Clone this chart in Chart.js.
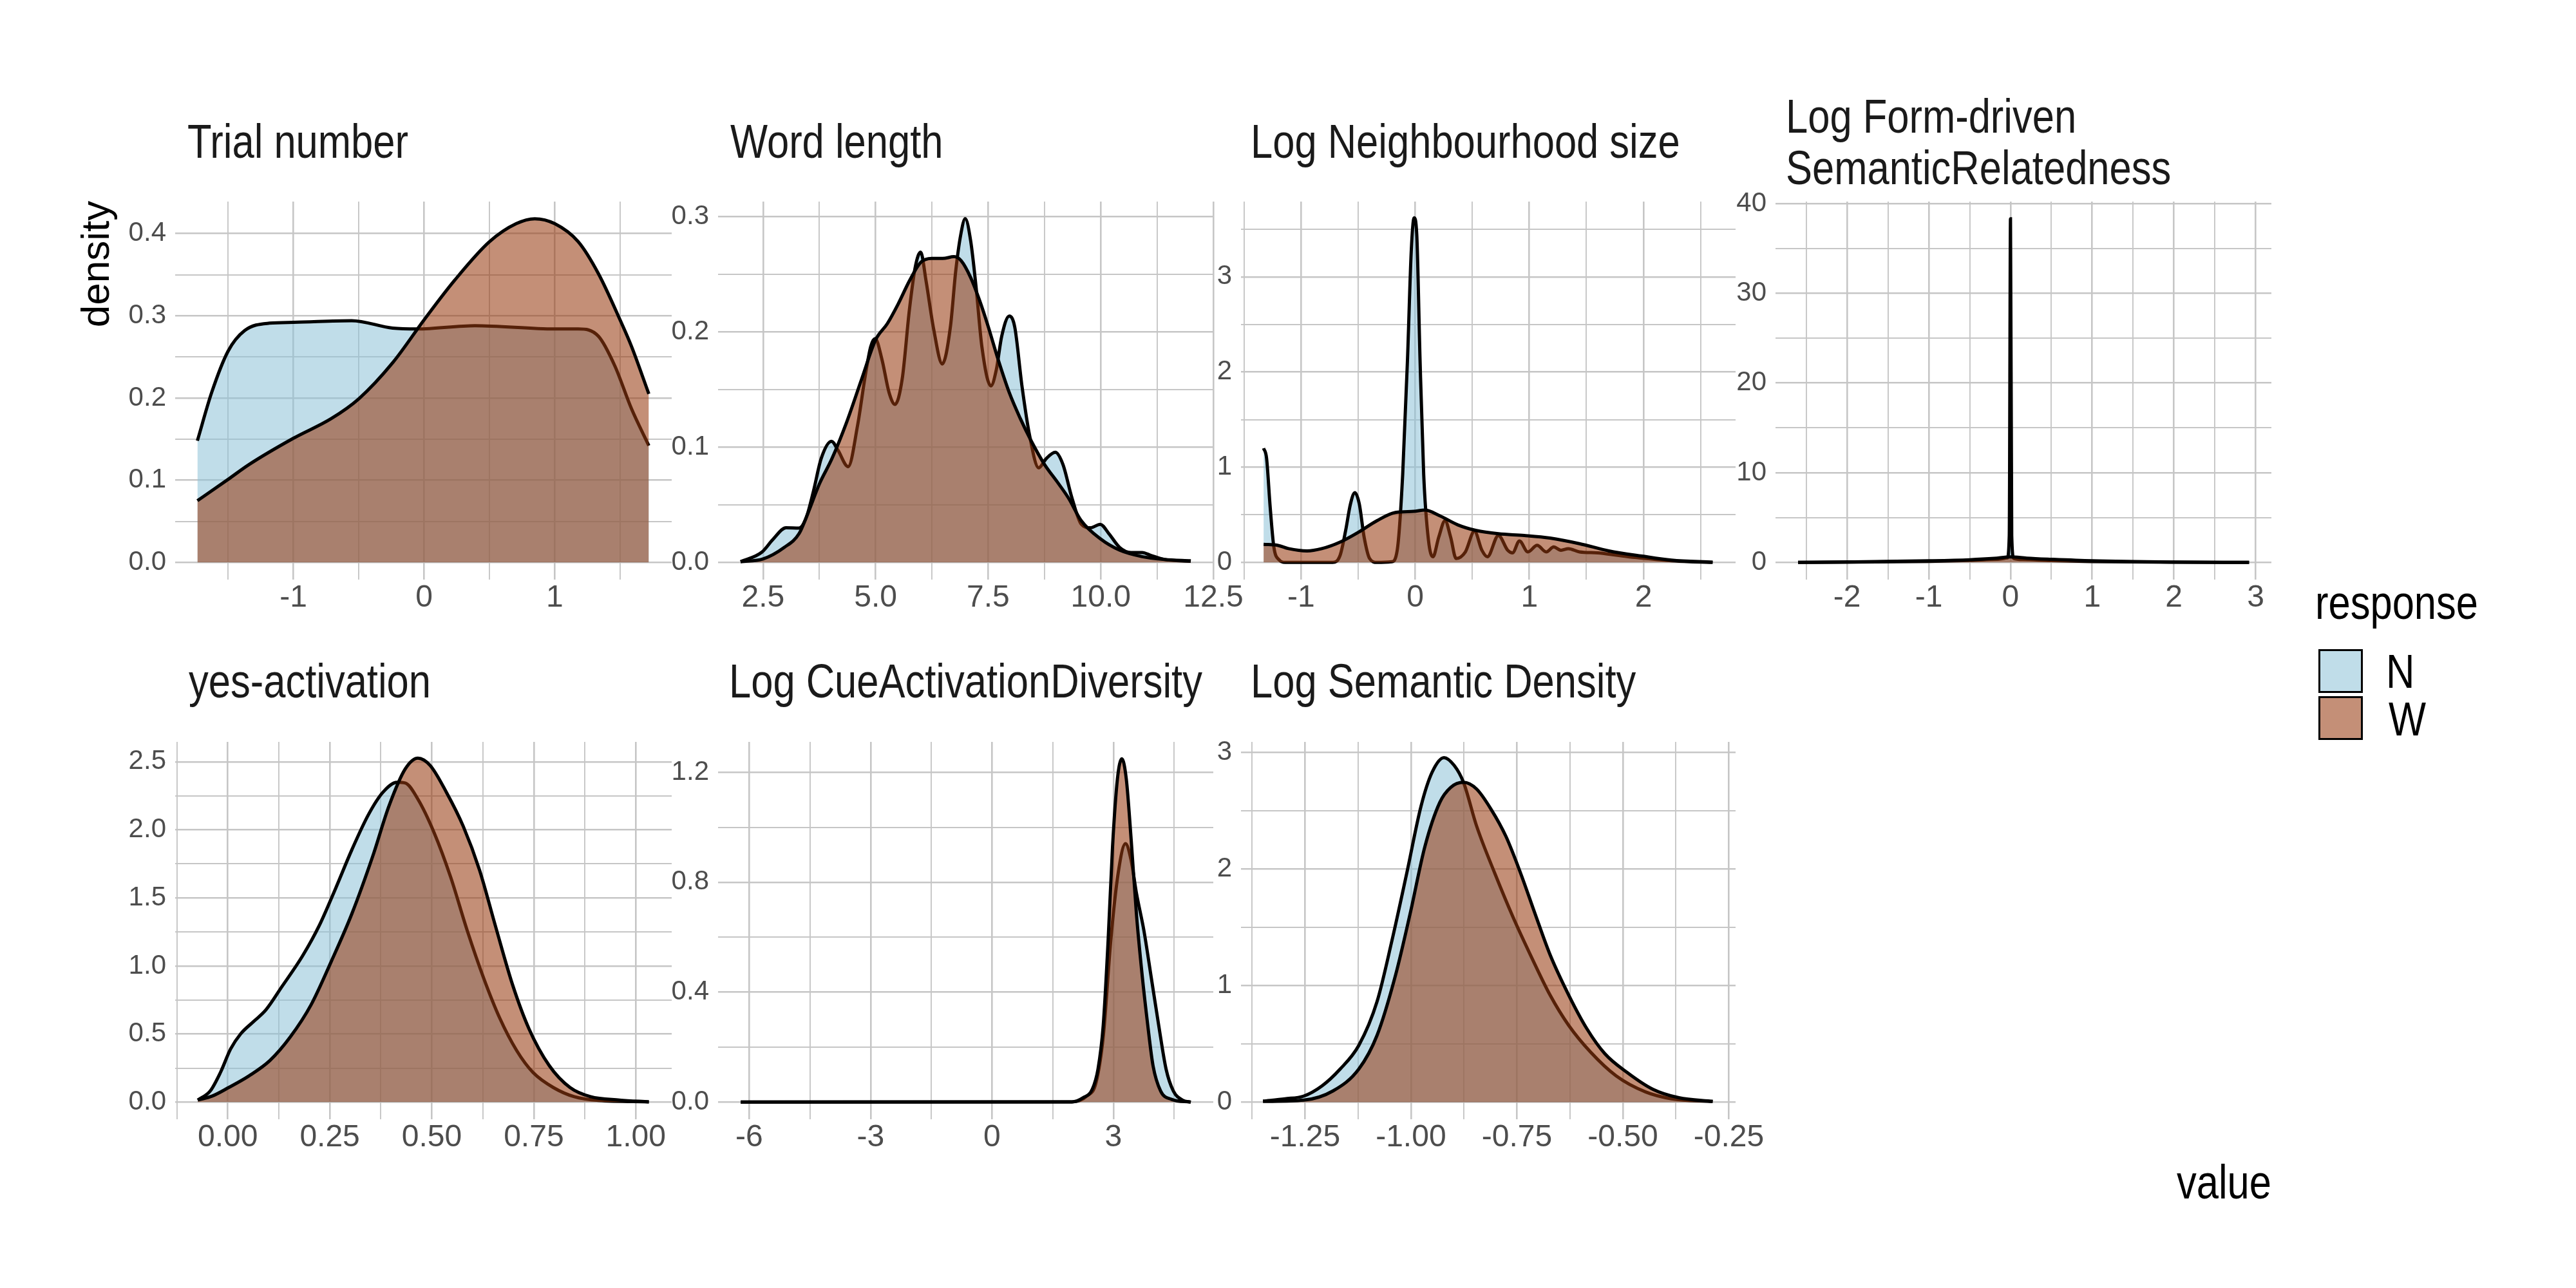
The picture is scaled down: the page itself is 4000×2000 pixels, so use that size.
<!DOCTYPE html>
<html>
<head>
<meta charset="utf-8">
<script src="https://cdn.jsdelivr.net/npm/chart.js@4.4.1/dist/chart.umd.min.js"></script>
<style>
    body { margin: 0; width: 4000px; height: 2000px; background: #fff; position: relative; overflow: hidden;
           font-family: "Liberation Sans", Arial, sans-serif; }
    canvas { position: absolute; }
    .txt { position: absolute; font-size: 75px; line-height: 75px; white-space: nowrap;
           transform-origin: 0 0; transform: scaleX(0.82); color: #1a1a1a; }
    .two { line-height: 80px; }
    .ylab { position: absolute; font-size: 62px; line-height: 62px; white-space: nowrap; color: #000;
            transform: translate(-50%, -50%) rotate(-90deg); }
    .key { position: absolute; width: 69px; height: 68px; box-sizing: border-box; border: 3px solid #000; }
</style>
</head>
<body>

<!-- facet strip titles -->
<div class="txt" style="left:291px; top:182px;">Trial number</div>
<div class="txt" style="left:1134px; top:182px;">Word length</div>
<div class="txt" style="left:1942px; top:182px;">Log Neighbourhood size</div>
<div class="txt two" style="left:2773px; top:140px;">Log Form-driven<br>SemanticRelatedness</div>
<div class="txt" style="left:293px; top:1020px;">yes-activation</div>
<div class="txt" style="left:1132px; top:1020px;">Log CueActivationDiversity</div>
<div class="txt" style="left:1942px; top:1020px;">Log Semantic Density</div>

<!-- axis titles -->
<div class="ylab" style="left:148px; top:410px;">density</div>
<div class="txt" style="left:3380px; top:1798px; color:#000;">value</div>

<!-- legend -->
<div class="txt" style="left:3595px; top:898px; color:#000;">response</div>
<div class="key" id="keyN" style="left:3600px; top:1008px;"></div>
<div class="key" id="keyW" style="left:3600px; top:1081px;"></div>
<div class="txt" style="left:3705px; top:1005px; color:#000;">N</div>
<div class="txt" style="left:3709px; top:1079px; color:#000;">W</div>

<script>
// ── Data: density curves, per facet ──

// Trial number
const trialNX = [-1.735, -1.625, -1.5, -1.373, -1.184, -1.0, -0.554, -0.24, -0.05, 0.39, 1.0, 1.18, 1.335, 1.46, 1.587, 1.72];
const trialNY = [0.148, 0.207, 0.257, 0.282, 0.291, 0.292, 0.294, 0.285, 0.284, 0.288, 0.284, 0.284, 0.275, 0.239, 0.187, 0.142];
const trialWX = [-1.735, -1.5, -1.34, -1.0, -0.71, -0.5, -0.24, 0.0, 0.233, 0.5, 0.705, 0.847, 1.0, 1.18, 1.335, 1.5, 1.587, 1.72];
const trialWY = [0.075, 0.101, 0.119, 0.151, 0.175, 0.199, 0.243, 0.295, 0.343, 0.39, 0.412, 0.418, 0.412, 0.39, 0.351, 0.295, 0.263, 0.205];

// Word length
const wordNX = [2.0, 2.475, 2.72, 3.01, 3.295, 3.46, 3.62, 3.79, 4.02, 4.16, 4.39, 4.6, 4.77, 4.89, 4.99, 5.14, 5.3, 5.43, 5.59,
                5.75, 5.88, 6.0, 6.12, 6.29, 6.48, 6.66, 6.78, 6.89, 6.99, 7.11, 7.23, 7.36, 7.56, 7.68, 7.8, 7.97, 8.09, 8.25,
                8.42, 8.62, 8.79, 8.99, 9.16, 9.36, 9.57, 9.77, 9.99, 10.18, 10.42, 10.67, 10.92, 11.12, 11.41, 12.0];
const wordNY = [0.0006, 0.009, 0.02, 0.03, 0.0297, 0.039, 0.062, 0.09, 0.105, 0.0975, 0.083, 0.119, 0.162, 0.187, 0.194, 0.176,
                0.147, 0.137, 0.159, 0.219, 0.256, 0.269, 0.244, 0.202, 0.172, 0.204, 0.253, 0.284, 0.298, 0.279, 0.239, 0.187,
                0.153, 0.167, 0.196, 0.2136, 0.204, 0.153, 0.11, 0.082, 0.09, 0.0955, 0.085, 0.056, 0.033, 0.03, 0.033, 0.025,
                0.013, 0.0086, 0.0086, 0.006, 0.0026, 0.001];
const wordWX = [2.0, 2.5, 2.97, 3.3, 3.5, 3.75, 4.03, 4.36, 4.69, 5.0, 5.26, 5.5, 5.75, 6.0, 6.25, 6.49, 6.74, 6.9, 7.11, 7.31,
                7.5, 7.72, 7.97, 8.21, 8.46, 8.75, 9.03, 9.28, 9.57, 9.99, 10.42, 10.92, 11.41, 12.0];
const wordWY = [0.0006, 0.003, 0.013, 0.025, 0.043, 0.068, 0.09, 0.122, 0.159, 0.193, 0.207, 0.224, 0.244, 0.26, 0.2635, 0.2635,
                0.265, 0.2615, 0.247, 0.227, 0.2045, 0.176, 0.147, 0.125, 0.105, 0.085, 0.07, 0.056, 0.036, 0.0205, 0.0106,
                0.005, 0.0026, 0.0014];

// Log Neighbourhood size
const neighNX = [-1.329, -1.303, -1.271, -1.239, -1.19, -1.142, -0.723, -0.658, -0.61, -0.568, -0.529, -0.49, -0.448, -0.4,
                 -0.335, -0.206, -0.158, -0.11, -0.068, -0.035, -0.01, 0.013, 0.042, 0.074, 0.116, 0.155, 0.206, 0.261, 0.31,
                 0.358, 0.439, 0.519, 0.584, 0.632, 0.729, 0.81, 0.852, 0.913, 0.987, 1.068, 1.148, 1.213, 1.277, 1.342,
                 1.439, 1.6, 1.761, 1.923, 2.084, 2.245, 2.406, 2.606];
const neighNY = [1.2, 1.096, 0.577, 0.162, 0.024, 0, 0, 0.076, 0.335, 0.612, 0.733, 0.612, 0.266, 0.041, 0, 0.007, 0.128,
                 0.923, 2.13, 3.27, 3.62, 3.45, 2.13, 0.923, 0.232, 0.059, 0.266, 0.439, 0.266, 0.041, 0.11, 0.328, 0.128,
                 0.059, 0.283, 0.128, 0.1, 0.225, 0.11, 0.18, 0.11, 0.162, 0.128, 0.145, 0.11, 0.1, 0.076, 0.052, 0.035,
                 0.017, 0.007, 0];
const neighWX = [-1.329, -1.206, -1.11, -0.948, -0.819, -0.658, -0.497, -0.335, -0.174, -0.013, 0.084, 0.213, 0.374, 0.535,
                 0.729, 0.955, 1.181, 1.439, 1.697, 1.987, 2.245, 2.606];
const neighWY = [0.19, 0.18, 0.145, 0.121, 0.145, 0.214, 0.318, 0.439, 0.525, 0.536, 0.55, 0.491, 0.394, 0.335, 0.301,
                 0.283, 0.256, 0.197, 0.121, 0.066, 0.024, 0.003];

// Log Form-driven SemanticRelatedness
const formNX = [-2.6, -2.0, -1.0, -0.5, -0.15, -0.04, -0.015, 0, 0.015, 0.04, 0.15, 0.5, 1.0, 2.0, 2.92];
const formNY = [0.0, 0.03, 0.12, 0.22, 0.35, 0.5, 3.0, 38.3, 3.0, 0.45, 0.33, 0.2, 0.1, 0.02, 0.0];
const formWX = [-2.6, -2.0, -1.0, -0.5, -0.2, 0, 0.2, 0.5, 1.0, 2.0, 2.92];
const formWY = [0.0, 0.05, 0.18, 0.3, 0.45, 0.62, 0.48, 0.35, 0.18, 0.04, 0.0];

// yes-activation
const yesNX = [-0.0736, -0.043, -0.018, 0.007, 0.032, 0.0625, 0.093, 0.133, 0.183, 0.224, 0.264, 0.304, 0.345, 0.38, 0.415,
               0.435, 0.466, 0.506, 0.546, 0.587, 0.627, 0.667, 0.708, 0.748, 0.798, 0.849, 0.909, 1.032];
const yesNY = [0.015, 0.082, 0.218, 0.391, 0.503, 0.59, 0.676, 0.85, 1.073, 1.296, 1.568, 1.853, 2.113, 2.275, 2.349, 2.344,
               2.225, 1.977, 1.655, 1.259, 0.912, 0.614, 0.379, 0.218, 0.107, 0.04, 0.012, 0.002];
const yesWX = [-0.0736, -0.038, 0.002, 0.052, 0.103, 0.153, 0.204, 0.254, 0.304, 0.355, 0.395, 0.435, 0.466, 0.496, 0.536,
               0.577, 0.617, 0.657, 0.698, 0.738, 0.788, 0.839, 0.889, 0.96, 1.032];
const yesWY = [0.015, 0.045, 0.107, 0.193, 0.305, 0.478, 0.714, 1.036, 1.383, 1.804, 2.175, 2.448, 2.527, 2.473, 2.275, 2.027,
               1.705, 1.283, 0.862, 0.54, 0.268, 0.107, 0.04, 0.015, 0.002];

// Log CueActivationDiversity
const cueNX = [-6.21, 1.978, 2.343, 2.571, 2.753, 2.935, 3.118, 3.3, 3.437, 3.573, 3.756, 3.938, 4.12, 4.303, 4.485, 4.713, 4.913];
const cueNY = [0, 0.001, 0.022, 0.071, 0.243, 0.586, 0.832, 0.94, 0.881, 0.758, 0.623, 0.452, 0.28, 0.12, 0.04, 0.007, 0];
const cueWX = [-6.21, 1.978, 2.25, 2.48, 2.62, 2.75, 2.87, 2.98, 3.1, 3.21, 3.32, 3.44, 3.57, 3.71, 3.85, 3.98, 4.17, 4.44, 4.913];
const cueWY = [0, 0.001, 0.016, 0.047, 0.12, 0.28, 0.586, 0.93, 1.175, 1.249, 1.175, 0.955, 0.685, 0.464, 0.28, 0.133, 0.04, 0.01, 0];

// Log Semantic Density
const semNX = [-1.349, -1.297, -1.253, -1.21, -1.167, -1.123, -1.08, -1.045, -1.01, -0.976, -0.95, -0.922, -0.898, -0.876,
               -0.845, -0.802, -0.759, -0.715, -0.672, -0.628, -0.576, -0.516, -0.446, -0.385, -0.288];
const semNY = [0.009, 0.029, 0.052, 0.139, 0.284, 0.487, 0.863, 1.384, 1.963, 2.543, 2.832, 2.957, 2.89, 2.745, 2.369, 1.963,
               1.587, 1.24, 0.921, 0.66, 0.429, 0.226, 0.087, 0.029, 0.006];
const semWX = [-1.349, -1.253, -1.184, -1.123, -1.08, -1.036, -1.002, -0.967, -0.932, -0.906, -0.876, -0.845, -0.811, -0.776,
               -0.741, -0.707, -0.672, -0.628, -0.585, -0.542, -0.49, -0.429, -0.368, -0.288];
const semWY = [0.006, 0.017, 0.096, 0.284, 0.573, 1.095, 1.616, 2.195, 2.572, 2.702, 2.745, 2.687, 2.514, 2.282, 1.963, 1.616,
               1.268, 0.921, 0.631, 0.414, 0.255, 0.11, 0.038, 0.006];

// ── Axis breaks and labels ──
const trialXTicks = [-1, 0, 1],                      trialXLabels = ['-1', '0', '1'];
const trialYTicks = [0, 0.1, 0.2, 0.3, 0.4],         trialYLabels = ['0.0', '0.1', '0.2', '0.3', '0.4'];
const wordXTicks = [2.5, 5, 7.5, 10, 12.5],          wordXLabels = ['2.5', '5.0', '7.5', '10.0', '12.5'];
const wordYTicks = [0, 0.1, 0.2, 0.3],               wordYLabels = ['0.0', '0.1', '0.2', '0.3'];
const neighXTicks = [-1, 0, 1, 2],                   neighXLabels = ['-1', '0', '1', '2'];
const neighYTicks = [0, 1, 2, 3],                    neighYLabels = ['0', '1', '2', '3'];
const formXTicks = [-2, -1, 0, 1, 2, 3],             formXLabels = ['-2', '-1', '0', '1', '2', '3'];
const formYTicks = [0, 10, 20, 30, 40],              formYLabels = ['0', '10', '20', '30', '40'];
const yesXTicks = [0, 0.25, 0.5, 0.75, 1],           yesXLabels = ['0.00', '0.25', '0.50', '0.75', '1.00'];
const yesYTicks = [0, 0.5, 1, 1.5, 2, 2.5],          yesYLabels = ['0.0', '0.5', '1.0', '1.5', '2.0', '2.5'];
const cueXTicks = [-6, -3, 0, 3],                    cueXLabels = ['-6', '-3', '0', '3'];
const cueYTicks = [0, 0.4, 0.8, 1.2],                cueYLabels = ['0.0', '0.4', '0.8', '1.2'];
const semXTicks = [-1.25, -1, -0.75, -0.5, -0.25],   semXLabels = ['-1.25', '-1.00', '-0.75', '-0.50', '-0.25'];
const semYTicks = [0, 1, 2, 3],                      semYLabels = ['0', '1', '2', '3'];

// axis limits (ggplot 5% expansion)
const trialXRange = [-1.905, 1.895], trialYRange = [-0.0209, 0.4389];
const wordXRange = [1.5, 12.5],      wordYRange = [-0.0149, 0.3128];
const neighXRange = [-1.527, 2.807], neighYRange = [-0.1805, 3.7905];
const formXRange = [-2.876, 3.193],  formYRange = [-1.915, 40.215];
const yesXRange = [-0.129, 1.088],   yesYRange = [-0.126, 2.646];
const cueXRange = [-6.77, 5.47],     cueYRange = [-0.0624, 1.3104];
const semXRange = [-1.401, -0.234],  semYRange = [-0.147, 3.092];

// ── Styling ──
const FILL_N = 'rgba(140, 193, 215, 0.55)';
const FILL_W = 'rgba(151, 58, 16, 0.57)';
const GRID = '#C6C6C6';
const TICK = '#4D4D4D';
const FONT = '"Liberation Sans", Arial, sans-serif';
const FONT_X = '"Liberation Sans Narrow", "Liberation Sans", Arial, sans-serif';
const Y_AXIS_W = 120, X_AXIS_H = 80, PAD_T = 40, PAD_R = 70;

document.getElementById('keyN').style.background = FILL_N;
document.getElementById('keyW').style.background = FILL_W;

// panel plotting areas on the page
const panels = [
    { left: 272,  top: 313,  w: 771, h: 587, nx: trialNX, ny: trialNY, wx: trialWX, wy: trialWY,
      xr: trialXRange, yr: trialYRange, xt: trialXTicks, xl: trialXLabels, yt: trialYTicks, yl: trialYLabels },
    { left: 1115, top: 313,  w: 769, h: 587, nx: wordNX, ny: wordNY, wx: wordWX, wy: wordWY,
      xr: wordXRange, yr: wordYRange, xt: wordXTicks, xl: wordXLabels, yt: wordYTicks, yl: wordYLabels },
    { left: 1927, top: 313,  w: 768, h: 587, nx: neighNX, ny: neighNY, wx: neighWX, wy: neighWY,
      xr: neighXRange, yr: neighYRange, xt: neighXTicks, xl: neighXLabels, yt: neighYTicks, yl: neighYLabels },
    { left: 2757, top: 313,  w: 770, h: 587, nx: formNX, ny: formNY, wx: formWX, wy: formWY,
      xr: formXRange, yr: formYRange, xt: formXTicks, xl: formXLabels, yt: formYTicks, yl: formYLabels },
    { left: 272,  top: 1152, w: 771, h: 586, nx: yesNX, ny: yesNY, wx: yesWX, wy: yesWY,
      xr: yesXRange, yr: yesYRange, xt: yesXTicks, xl: yesXLabels, yt: yesYTicks, yl: yesYLabels },
    { left: 1115, top: 1152, w: 769, h: 586, nx: cueNX, ny: cueNY, wx: cueWX, wy: cueWY,
      xr: cueXRange, yr: cueYRange, xt: cueXTicks, xl: cueXLabels, yt: cueYTicks, yl: cueYLabels },
    { left: 1927, top: 1152, w: 768, h: 586, nx: semNX, ny: semNY, wx: semWX, wy: semWY,
      xr: semXRange, yr: semYRange, xt: semXTicks, xl: semXLabels, yt: semYTicks, yl: semYLabels }
];

function pts(xs, ys) {
    return xs.map((x, i) => ({ x: x, y: ys[i] }));
}

// major breaks plus ggplot-style minor breaks half way between them
function breaks(major, labels, range) {
    const step = major[1] - major[0];
    const out = major.map((v, i) => ({ value: v, isMajor: true, text: labels[i] }));
    for (let v = major[0] - step / 2; v <= range[1] + 1e-9; v += step) {
        if (v >= range[0] - 1e-9) out.push({ value: v, isMajor: false, text: '' });
    }
    return out.sort((a, b) => a.value - b.value);
}

function axis(range, ticks, font, isX) {
    return {
        type: 'linear',
        min: range[0],
        max: range[1],
        bounds: 'data',
        border: { display: false },
        grid: {
            color: GRID,
            drawTicks: false,
            lineWidth: c => (c.tick && c.tick.isMajor) ? 2.6 : 1.9
        },
        ticks: {
            autoSkip: false,
            maxRotation: 0,
            minRotation: 0,
            padding: isX ? 0 : 14,
            color: TICK,
            font: font,
            callback: (v, i, ts) => ts[i].text
        },
        afterBuildTicks: s => { s.ticks = ticks.map(t => Object.assign({}, t)); },
        afterFit: s => {
            if (isX) { s.height = X_AXIS_H; s.paddingLeft = 0; s.paddingRight = 0; }
            else { s.width = Y_AXIS_W; s.paddingTop = 0; s.paddingBottom = 0; }
        }
    };
}

// ── Build one chart per facet ──
panels.forEach(p => {
    const canvas = document.createElement('canvas');
    const cw = Y_AXIS_W + p.w + PAD_R;
    const ch = PAD_T + p.h + X_AXIS_H;
    canvas.width = cw;
    canvas.height = ch;
    canvas.style.left = (p.left - Y_AXIS_W) + 'px';
    canvas.style.top = (p.top - PAD_T) + 'px';
    canvas.style.width = cw + 'px';
    canvas.style.height = ch + 'px';
    document.body.appendChild(canvas);

    new Chart(canvas.getContext('2d'), {
        type: 'line',
        data: {
            datasets: [
                { label: 'W', data: pts(p.wx, p.wy), order: 0, backgroundColor: FILL_W, fill: 'origin' },
                { label: 'N', data: pts(p.nx, p.ny), order: 1, backgroundColor: FILL_N, fill: 'origin' }
            ]
        },
        options: {
            responsive: false,
            animation: false,
            devicePixelRatio: 1,
            layout: { padding: { top: PAD_T, right: PAD_R, left: 0, bottom: 0 } },
            plugins: { legend: { display: false }, tooltip: { enabled: false } },
            elements: {
                point: { radius: 0 },
                line: { borderColor: '#000', borderWidth: 5, cubicInterpolationMode: 'monotone' }
            },
            scales: {
                x: axis(p.xr, breaks(p.xt, p.xl, p.xr), { family: FONT_X, size: 48 }, true),
                y: axis(p.yr, breaks(p.yt, p.yl, p.yr), { family: FONT, size: 42 }, false)
            }
        }
    });
});
</script>
</body>
</html>
